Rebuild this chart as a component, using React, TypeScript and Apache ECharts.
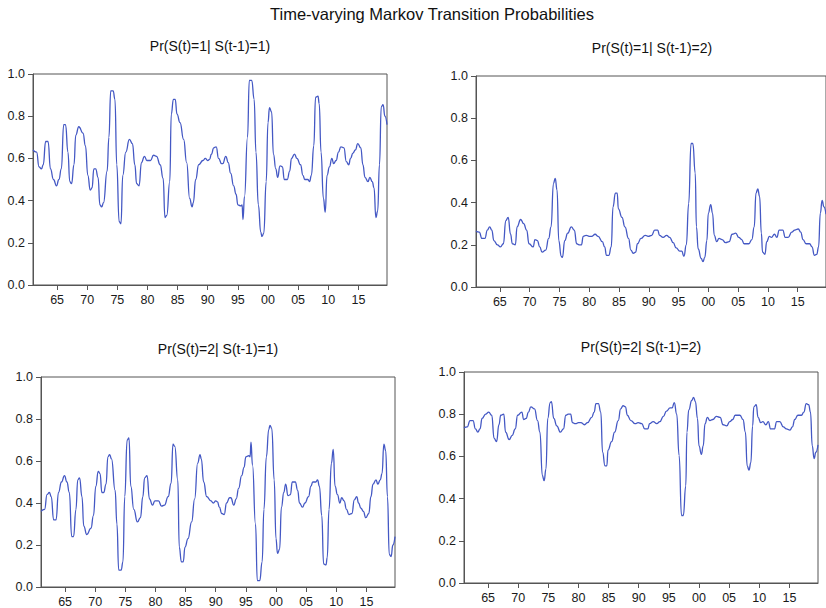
import React, { useEffect, useRef } from "react";
import * as echarts from "echarts";

const mainTitle = "Time-varying Markov Transition Probabilities";
const panelTitles = [
  "Pr(S(t)=1| S(t-1)=1)",
  "Pr(S(t)=1| S(t-1)=2)",
  "Pr(S(t)=2| S(t-1)=1)",
  "Pr(S(t)=2| S(t-1)=2)",
];

const tickYears = [1965, 1970, 1975, 1980, 1985, 1990, 1995, 2000, 2005, 2010, 2015];
const tickLabels = ["65", "70", "75", "80", "85", "90", "95", "00", "05", "10", "15"];

// Sample times (years) for the regime-1 origin series
const yearsFrom1 = [
  1961.0, 1961.6, 1962.0, 1962.4, 1962.7, 1963.1, 1963.5, 1963.9, 1964.4, 1964.9,
  1965.3, 1965.7, 1966.1, 1966.4, 1966.8, 1967.1, 1967.4, 1967.8, 1968.1, 1968.6,
  1969.3, 1969.7, 1970.1, 1970.5, 1970.8, 1971.1, 1971.4, 1971.8, 1972.1, 1972.4,
  1972.7, 1973.3, 1973.6, 1973.9, 1974.3, 1974.6, 1974.9, 1975.3, 1975.6, 1975.9,
  1976.4, 1977.0, 1977.5, 1977.9, 1978.2, 1978.6, 1979.0, 1979.5, 1979.9, 1980.5,
  1981.0, 1981.5, 1982.1, 1982.6, 1982.9, 1983.2, 1983.7, 1983.95, 1984.3, 1984.6,
  1984.9, 1985.4, 1986.0, 1986.5, 1987.0, 1987.4, 1987.6, 1988.0, 1988.5, 1989.2,
  1989.6, 1990.0, 1990.3, 1990.6, 1991.0, 1991.4, 1991.8, 1992.3, 1992.5, 1993.0,
  1993.4, 1993.8, 1994.3, 1994.7, 1995.0, 1995.5, 1995.7, 1995.85, 1996.1, 1996.6,
  1996.9, 1997.3, 1997.7, 1998.0, 1998.4, 1998.8, 1999.0, 1999.3, 1999.7, 2000.0,
  2000.25, 2000.6, 2000.9, 2001.3, 2001.6, 2002.0, 2002.4, 2002.7, 2003.2, 2003.6,
  2003.9, 2004.4, 2004.8, 2005.4, 2005.8, 2006.1, 2006.6, 2006.9, 2007.2, 2007.6,
  2007.9, 2008.3, 2008.5, 2008.8, 2009.2, 2009.5, 2009.8, 2010.2, 2010.6, 2010.9,
  2011.3, 2011.7, 2012.1, 2012.6, 2013.0, 2013.4, 2013.7, 2014.1, 2014.5, 2014.9,
  2015.4, 2015.75, 2016.1, 2016.6, 2016.9, 2017.3, 2017.6, 2017.9, 2018.2, 2018.5,
  2018.8, 2019.1, 2019.4, 2019.75,
];

const p11 = [
  0.64, 0.63, 0.56, 0.55, 0.57, 0.68, 0.68, 0.55, 0.50, 0.47,
  0.50, 0.55, 0.76, 0.76, 0.63, 0.49, 0.48, 0.57, 0.71, 0.75,
  0.72, 0.66, 0.52, 0.45, 0.46, 0.55, 0.55, 0.51, 0.38, 0.37,
  0.39, 0.54, 0.70, 0.92, 0.92, 0.88, 0.57, 0.30, 0.29, 0.52,
  0.63, 0.69, 0.67, 0.57, 0.48, 0.47, 0.58, 0.61, 0.59, 0.59,
  0.615, 0.61, 0.57, 0.505, 0.32, 0.33, 0.49, 0.81, 0.88, 0.88,
  0.81, 0.77, 0.69, 0.58, 0.41, 0.37, 0.39, 0.50, 0.57, 0.59,
  0.60, 0.59, 0.595, 0.62, 0.65, 0.655, 0.60, 0.575, 0.575, 0.61,
  0.58, 0.53, 0.47, 0.43, 0.38, 0.375, 0.38, 0.31, 0.42, 0.70,
  0.97, 0.97, 0.88, 0.63, 0.38, 0.25, 0.23, 0.245, 0.49, 0.77,
  0.84, 0.82, 0.62, 0.55, 0.51, 0.565, 0.56, 0.50, 0.50, 0.54,
  0.60, 0.62, 0.60, 0.57, 0.52, 0.50, 0.50, 0.49, 0.52, 0.66,
  0.89, 0.895, 0.86, 0.63, 0.41, 0.345, 0.52, 0.56, 0.60, 0.575,
  0.59, 0.63, 0.655, 0.65, 0.585, 0.57, 0.60, 0.625, 0.64, 0.67,
  0.65, 0.57, 0.51, 0.49, 0.51, 0.49, 0.46, 0.32, 0.35, 0.57,
  0.845, 0.855, 0.80, 0.76,
];

const p21 = [
  0.36, 0.37, 0.44, 0.45, 0.43, 0.32, 0.32, 0.45, 0.50, 0.53,
  0.50, 0.45, 0.24, 0.24, 0.37, 0.51, 0.52, 0.43, 0.29, 0.25,
  0.28, 0.34, 0.48, 0.55, 0.54, 0.45, 0.45, 0.49, 0.62, 0.63,
  0.61, 0.46, 0.30, 0.08, 0.08, 0.12, 0.43, 0.70, 0.71, 0.48,
  0.37, 0.31, 0.33, 0.43, 0.52, 0.53, 0.42, 0.39, 0.41, 0.41,
  0.385, 0.39, 0.43, 0.495, 0.68, 0.67, 0.51, 0.19, 0.12, 0.12,
  0.19, 0.23, 0.31, 0.42, 0.59, 0.63, 0.61, 0.50, 0.43, 0.41,
  0.40, 0.41, 0.405, 0.38, 0.35, 0.345, 0.40, 0.425, 0.425, 0.39,
  0.42, 0.47, 0.53, 0.57, 0.62, 0.625, 0.62, 0.69, 0.58, 0.30,
  0.03, 0.03, 0.12, 0.37, 0.62, 0.75, 0.77, 0.755, 0.51, 0.23,
  0.16, 0.18, 0.38, 0.45, 0.49, 0.435, 0.44, 0.50, 0.50, 0.46,
  0.40, 0.38, 0.40, 0.43, 0.48, 0.50, 0.50, 0.51, 0.48, 0.34,
  0.11, 0.105, 0.14, 0.37, 0.59, 0.655, 0.48, 0.44, 0.40, 0.425,
  0.41, 0.37, 0.345, 0.35, 0.415, 0.43, 0.40, 0.375, 0.36, 0.33,
  0.35, 0.43, 0.49, 0.51, 0.49, 0.51, 0.54, 0.68, 0.65, 0.43,
  0.155, 0.145, 0.20, 0.24,
];

// Sample times (years) for the regime-2 origin series
const yearsFrom2 = [
  1961.0, 1961.55, 1962.0, 1962.5, 1962.9, 1963.3, 1963.65, 1964.0, 1964.6, 1965.1,
  1965.6, 1966.0, 1966.4, 1966.8, 1967.1, 1967.6, 1967.9, 1968.5, 1969.0, 1969.5,
  1969.9, 1970.6, 1970.9, 1971.3, 1971.7, 1972.1, 1972.7, 1973.2, 1973.6, 1974.0,
  1974.3, 1974.6, 1974.9, 1975.3, 1975.5, 1975.9, 1976.4, 1977.0, 1977.5, 1977.9,
  1978.3, 1978.7, 1979.0, 1979.5, 1980.0, 1980.4, 1981.0, 1981.5, 1982.2, 1982.6,
  1982.9, 1983.3, 1983.7, 1984.0, 1984.4, 1984.7, 1984.9, 1985.5, 1986.0, 1986.6,
  1987.0, 1987.4, 1987.8, 1988.1, 1988.7, 1989.4, 1989.9, 1990.5, 1991.0, 1991.5,
  1991.8, 1992.4, 1993.0, 1993.5, 1994.1, 1994.6, 1995.2, 1995.55, 1995.9, 1996.3,
  1996.7, 1997.1, 1997.4, 1997.8, 1998.0, 1998.3, 1998.8, 1999.1, 1999.4, 1999.75,
  2000.0, 2000.4, 2000.7, 2001.0, 2001.4, 2001.8, 2002.3, 2002.9, 2003.5, 2004.0,
  2004.6, 2005.1, 2005.6, 2006.0, 2006.8, 2007.3, 2007.7, 2008.0, 2008.3, 2008.6,
  2008.9, 2009.1, 2009.5, 2009.8, 2010.25, 2010.6, 2011.1, 2011.5, 2011.9, 2012.5,
  2012.9, 2013.4, 2014.0, 2014.5, 2015.1, 2015.5, 2015.9, 2016.4, 2017.0, 2017.4,
  2017.8, 2018.2, 2018.5, 2018.8, 2019.1, 2019.4, 2019.75,
];

const p12 = [
  0.265, 0.26, 0.23, 0.23, 0.27, 0.285, 0.27, 0.22, 0.20, 0.19,
  0.205, 0.315, 0.33, 0.25, 0.205, 0.20, 0.285, 0.32, 0.30, 0.27,
  0.205, 0.19, 0.225, 0.22, 0.19, 0.165, 0.175, 0.23, 0.285, 0.49,
  0.515, 0.46, 0.22, 0.145, 0.14, 0.22, 0.255, 0.285, 0.27, 0.205,
  0.20, 0.20, 0.24, 0.245, 0.24, 0.24, 0.25, 0.24, 0.215, 0.19,
  0.15, 0.15, 0.19, 0.38, 0.445, 0.445, 0.37, 0.33, 0.285, 0.23,
  0.175, 0.16, 0.165, 0.205, 0.23, 0.245, 0.24, 0.245, 0.27, 0.27,
  0.245, 0.235, 0.245, 0.235, 0.21, 0.185, 0.17, 0.17, 0.145, 0.20,
  0.395, 0.68, 0.68, 0.54, 0.285, 0.18, 0.135, 0.12, 0.14, 0.22,
  0.35, 0.39, 0.35, 0.245, 0.215, 0.23, 0.225, 0.21, 0.215, 0.25,
  0.255, 0.235, 0.225, 0.205, 0.205, 0.225, 0.285, 0.445, 0.465, 0.43,
  0.255, 0.165, 0.155, 0.215, 0.24, 0.235, 0.25, 0.235, 0.27, 0.27,
  0.235, 0.235, 0.26, 0.27, 0.275, 0.26, 0.225, 0.205, 0.205, 0.19,
  0.15, 0.155, 0.19, 0.35, 0.41, 0.38, 0.345,
];

const p22 = [
  0.735, 0.74, 0.77, 0.77, 0.73, 0.715, 0.73, 0.78, 0.80, 0.81,
  0.795, 0.685, 0.67, 0.75, 0.795, 0.80, 0.715, 0.68, 0.70, 0.73,
  0.795, 0.81, 0.775, 0.78, 0.81, 0.835, 0.825, 0.77, 0.715, 0.51,
  0.485, 0.54, 0.78, 0.855, 0.86, 0.78, 0.745, 0.715, 0.73, 0.795,
  0.80, 0.80, 0.76, 0.755, 0.76, 0.76, 0.75, 0.76, 0.785, 0.81,
  0.85, 0.85, 0.81, 0.62, 0.555, 0.555, 0.63, 0.67, 0.715, 0.77,
  0.825, 0.84, 0.835, 0.795, 0.77, 0.755, 0.76, 0.755, 0.73, 0.73,
  0.755, 0.765, 0.755, 0.765, 0.79, 0.815, 0.83, 0.83, 0.855, 0.80,
  0.605, 0.32, 0.32, 0.46, 0.715, 0.82, 0.865, 0.88, 0.86, 0.78,
  0.65, 0.61, 0.65, 0.755, 0.785, 0.77, 0.775, 0.79, 0.785, 0.75,
  0.745, 0.765, 0.775, 0.795, 0.795, 0.775, 0.715, 0.555, 0.535, 0.57,
  0.745, 0.835, 0.845, 0.785, 0.76, 0.765, 0.75, 0.765, 0.73, 0.73,
  0.765, 0.765, 0.74, 0.73, 0.725, 0.74, 0.775, 0.795, 0.795, 0.81,
  0.85, 0.845, 0.81, 0.65, 0.59, 0.62, 0.655,
];

const FONT = "'Liberation Sans', Arial, sans-serif";
const LINE_COLOR = "#4458c4";
const FRAME = "#555555";

// panel layout: left, top, width, height (px)
const grids = [
  { left: 33, top: 74, width: 354, height: 211 },
  { left: 476, top: 76, width: 354, height: 211 },
  { left: 41, top: 377, width: 354, height: 211 },
  { left: 464, top: 372, width: 354, height: 211 },
];
const titlePos = [
  [210, 46],
  [652, 48],
  [218, 349],
  [641, 347],
];

function pairs(xs: number[], ys: number[]) {
  return xs.map((x, i) => [x, ys[i]]);
}

export default function App() {
  const ref = useRef<HTMLDivElement>(null);
  useEffect(() => {
    if (!ref.current) return;
    const chart = echarts.init(ref.current, undefined, { renderer: "svg" });
    const seriesData = [
      pairs(yearsFrom1, p11),
      pairs(yearsFrom2, p12),
      pairs(yearsFrom1, p21),
      pairs(yearsFrom2, p22),
    ];
    const option: any = {
      animation: false,
      backgroundColor: "#ffffff",
      textStyle: { fontFamily: FONT },
      grid: grids.map((g) => ({
        ...g,
        show: true,
        borderColor: FRAME,
        borderWidth: 1,
        backgroundColor: "transparent",
        containLabel: false,
      })),
      xAxis: grids.map((_, i) => ({
        type: "value",
        gridIndex: i,
        min: 1961,
        max: 2019.75,
        splitLine: { show: false },
        axisLine: { show: true, onZero: false, lineStyle: { color: FRAME, width: 1 } },
        axisTick: {
          show: true,
          length: 5,
          customValues: tickYears,
          lineStyle: { color: FRAME, width: 1 },
        },
        axisLabel: {
          customValues: tickYears,
          margin: 8,
          fontSize: 12.5,
          color: "#1a1a1a",
          fontFamily: FONT,
          formatter: (v: number) => {
            const k = tickYears.indexOf(Math.round(v));
            return k >= 0 ? tickLabels[k] : "";
          },
        },
      })),
      yAxis: grids.map((_, i) => ({
        type: "value",
        gridIndex: i,
        min: 0,
        max: 1,
        interval: 0.2,
        splitLine: { show: false },
        axisLine: { show: true, onZero: false, lineStyle: { color: FRAME, width: 1 } },
        axisTick: { show: true, length: 5, lineStyle: { color: FRAME, width: 1 } },
        axisLabel: {
          margin: 8,
          fontSize: 12.5,
          color: "#1a1a1a",
          fontFamily: FONT,
          formatter: (v: number) => v.toFixed(1),
        },
      })),
      series: seriesData.map((d, i) => ({
        type: "line",
        xAxisIndex: i,
        yAxisIndex: i,
        data: d,
        showSymbol: false,
        smooth: 0.5,
        smoothMonotone: "x",
        clip: true,
        lineStyle: { color: LINE_COLOR, width: 1.3 },
      })),
      graphic: [
        {
          type: "text",
          x: 432,
          y: 14,
          style: {
            text: mainTitle,
            font: `16.5px ${FONT}`,
            fill: "#111",
            textAlign: "center",
            textVerticalAlign: "middle",
          },
        },
        ...panelTitles.map((t, i) => ({
          type: "text",
          x: titlePos[i][0],
          y: titlePos[i][1],
          style: {
            text: t,
            font: `14px ${FONT}`,
            fill: "#111",
            textAlign: "center",
            textVerticalAlign: "middle",
          },
        })),
      ],
    };
    chart.setOption(option);
    return () => chart.dispose();
  }, []);
  return (
    <div
      ref={ref}
      style={{ position: "absolute", left: 0, top: 0, width: 826, height: 608, overflow: "hidden" }}
    />
  );
}
